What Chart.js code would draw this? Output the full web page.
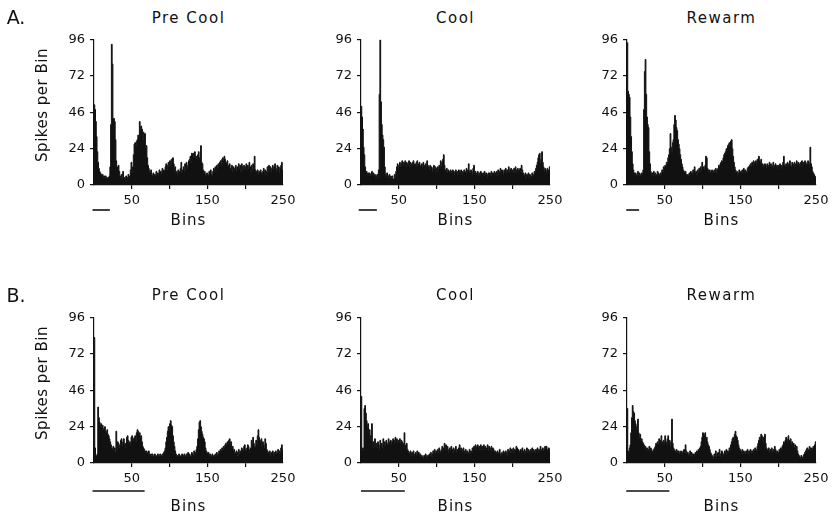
<!DOCTYPE html>
<html>
<head>
<meta charset="utf-8">
<script src="https://cdn.jsdelivr.net/npm/chart.js@4.4.1/dist/chart.umd.min.js"></script>
<style>
	html, body { margin: 0; padding: 0; background: #fff; }
	#fig { position: relative; width: 834px; height: 516px; overflow: hidden; font-family: 'DejaVu Sans', sans-serif; color: #111; }
	#fig canvas { position: absolute; }
	.lbl { position: absolute; transform: translate(-50%, -50%); white-space: nowrap; line-height: 1; }
	.panel-letter { font-size: 19px; }
	.title { font-size: 15px; letter-spacing: 1.5px; }
	.ylab { font-size: 15px; letter-spacing: 0.5px; transform: translate(-50%, -50%) rotate(-90deg); }
	.xlab { font-size: 15px; letter-spacing: 1px; }
</style>
</head>
<body>
<div id="fig"></div>
<script>
(function () {
	'use strict';

	// --- Data (spikes per bin, bins 0..249) ---

	const preCoolA = [
		53, 50, 42, 32, 22, 15, 11, 9, 8, 7,
		6, 7, 5, 6, 5, 6, 5, 4, 5, 5,
		6, 12, 40, 93, 80, 44, 44, 42, 30, 16,
		12, 10, 13, 9, 6, 5, 7, 4, 9, 4,
		5, 3, 6, 4, 5, 7, 5, 6, 10, 15,
		8, 12, 20, 27, 28, 26, 29, 30, 33, 31,
		42, 36, 39, 37, 30, 35, 33, 34, 25, 26,
		18, 13, 11, 9, 8, 10, 7, 6, 8, 6,
		7, 6, 9, 7, 8, 6, 10, 8, 9, 7,
		11, 8, 10, 9, 12, 14, 10, 13, 15, 12,
		16, 13, 17, 15, 18, 14, 10, 12, 8, 9,
		7, 10, 8, 9, 11, 15, 8, 10, 12, 9,
		14, 10, 15, 11, 13, 16, 17, 19, 15, 21,
		20, 21, 18, 22, 19, 19, 17, 20, 22, 18,
		17, 26, 15, 14, 10, 8, 9, 7, 6, 8,
		7, 6, 9, 8, 10, 7, 6, 9, 11, 10,
		12, 9, 13, 11, 14, 12, 15, 16, 13, 17,
		18, 16, 19, 17, 15, 14, 16, 13, 12, 14,
		11, 10, 13, 9, 12, 11, 10, 13, 9, 12,
		10, 14, 11, 13, 9, 14, 12, 10, 13, 11,
		12, 14, 10, 13, 11, 15, 12, 9, 13, 10,
		14, 11, 19, 10, 9, 8, 10, 7, 9, 8,
		10, 8, 7, 9, 11, 8, 10, 7, 9, 12,
		8, 13, 10, 12, 9, 11, 13, 10, 12, 14,
		11, 9, 13, 10, 12, 8, 11, 13, 15, 10
	];

	const coolA = [
		52, 45, 37, 25, 20, 12, 8, 9, 7, 8,
		6, 8, 7, 6, 9, 7, 8, 6, 7, 5,
		6, 7, 5, 10, 60, 96, 55, 40, 33, 30,
		25, 12, 7, 6, 8, 5, 6, 7, 5, 6,
		5, 6, 4, 4, 7, 5, 9, 12, 14, 11,
		13, 15, 12, 14, 16, 13, 15, 14, 16, 12,
		15, 14, 13, 16, 12, 15, 14, 13, 15, 16,
		13, 14, 12, 15, 16, 13, 14, 15, 12, 13,
		14, 12, 15, 13, 11, 14, 12, 16, 13, 12,
		10, 13, 11, 12, 9, 11, 13, 10, 12, 11,
		9, 12, 10, 13, 11, 16, 12, 15, 17, 20,
		13, 10, 9, 11, 8, 10, 9, 8, 10, 9,
		8, 10, 9, 7, 9, 10, 8, 9, 7, 10,
		9, 8, 10, 7, 9, 8, 10, 9, 8, 11,
		9, 10, 14, 9, 8, 10, 9, 7, 11, 13,
		8, 9, 7, 8, 9, 6, 8, 7, 9, 8,
		7, 8, 6, 9, 7, 8, 5, 7, 8, 6,
		8, 7, 9, 6, 8, 7, 9, 8, 6, 9,
		8, 10, 7, 9, 11, 8, 10, 9, 7, 10,
		9, 11, 8, 10, 9, 12, 8, 10, 11, 9,
		10, 8, 11, 9, 12, 10, 8, 11, 9, 10,
		11, 9, 13, 10, 8, 7, 6, 8, 5, 7,
		6, 8, 5, 7, 6, 5, 8, 6, 7, 9,
		8, 11, 13, 15, 18, 20, 21, 14, 17, 22,
		15, 12, 9, 11, 10, 8, 11, 9, 10, 12
	];

	const rewarmA = [
		94, 62, 60, 58, 45, 32, 22, 14, 10, 8,
		7, 8, 6, 7, 9, 7, 8, 6, 7, 8,
		7, 10, 50, 75, 83, 60, 45, 40, 38, 22,
		14, 9, 7, 8, 6, 9, 7, 8, 6, 7,
		9, 8, 7, 6, 8, 7, 10, 9, 12, 11,
		13, 12, 15, 14, 18, 20, 24, 34, 25, 22,
		28, 30, 40, 46, 43, 38, 36, 30, 27, 24,
		20, 17, 14, 12, 10, 9, 8, 9, 7, 6,
		7, 6, 8, 7, 9, 8, 7, 10, 9, 12,
		8, 9, 7, 10, 8, 11, 9, 12, 10, 15,
		11, 12, 10, 13, 19, 18, 11, 10, 9, 10,
		8, 9, 10, 8, 9, 10, 9, 11, 8, 10,
		11, 13, 12, 14, 15, 16, 15, 18, 20, 21,
		22, 24, 23, 26, 27, 28, 26, 29, 30, 24,
		19, 15, 12, 10, 8, 9, 7, 8, 10, 9,
		8, 9, 10, 8, 11, 9, 10, 8, 9, 11,
		12, 10, 13, 14, 12, 15, 13, 16, 15, 14,
		16, 13, 17, 15, 19, 16, 14, 17, 12, 14,
		13, 12, 14, 13, 11, 14, 12, 13, 15, 12,
		14, 13, 12, 15, 11, 13, 14, 12, 13, 11,
		13, 12, 14, 11, 13, 12, 15, 19, 13, 12,
		14, 12, 15, 13, 14, 16, 13, 12, 15, 14,
		13, 15, 12, 14, 16, 13, 15, 14, 12, 15,
		14, 16, 13, 15, 14, 16, 15, 13, 14, 16,
		15, 13, 25, 14, 12, 9, 8, 7, 6, 5
	];

	const preCoolB = [
		83, 10, 5, 4, 6, 37, 30, 27, 25, 26,
		24, 25, 22, 23, 24, 21, 20, 22, 19, 18,
		16, 14, 12, 10, 9, 11, 8, 10, 7, 21,
		9, 14, 13, 10, 12, 15, 16, 11, 14, 16,
		12, 13, 10, 17, 18, 15, 13, 14, 12, 17,
		18, 15, 16, 17, 18, 14, 20, 22, 21, 19,
		20, 17, 18, 14, 11, 10, 9, 8, 7, 8,
		7, 6, 8, 6, 5, 6, 5, 6, 4, 5,
		6, 5, 4, 5, 6, 5, 4, 6, 5, 5,
		6, 5, 7, 8, 10, 14, 17, 21, 24, 22,
		26, 28, 25, 24, 18, 14, 11, 8, 6, 5,
		5, 4, 6, 5, 4, 5, 6, 4, 5, 6,
		5, 4, 6, 5, 7, 5, 6, 4, 5, 7,
		6, 5, 8, 6, 7, 9, 11, 16, 22, 27,
		28, 24, 21, 19, 17, 16, 14, 10, 8, 7,
		6, 7, 5, 6, 5, 4, 6, 5, 4, 5,
		6, 5, 7, 5, 6, 8, 7, 9, 8, 10,
		9, 11, 10, 12, 13, 11, 14, 13, 15, 16,
		12, 14, 10, 11, 8, 9, 7, 6, 8, 7,
		5, 9, 6, 8, 7, 10, 9, 8, 11, 12,
		9, 8, 10, 12, 11, 9, 7, 10, 15, 12,
		17, 13, 10, 11, 15, 12, 18, 22, 17, 15,
		13, 16, 11, 14, 12, 10, 16, 13, 9, 8,
		7, 6, 8, 5, 7, 6, 8, 5, 7, 6,
		8, 6, 7, 9, 6, 8, 7, 10, 12, 9
	];

	const coolB = [
		44, 9, 10, 8, 36, 38, 33, 28, 24, 26,
		20, 22, 18, 15, 26, 12, 14, 10, 16, 11,
		13, 10, 14, 12, 9, 15, 11, 13, 10, 16,
		12, 14, 11, 15, 13, 12, 16, 14, 13, 15,
		12, 14, 16, 13, 15, 17, 14, 16, 13, 15,
		14, 16, 13, 15, 14, 12, 13, 20, 11, 12,
		13, 9, 8, 7, 6, 8, 5, 7, 6, 8,
		5, 6, 7, 5, 8, 6, 7, 5, 6, 4,
		5, 4, 3, 5, 4, 6, 3, 5, 4, 5,
		6, 5, 7, 4, 6, 8, 7, 9, 6, 8,
		7, 9, 6, 10, 8, 7, 9, 11, 8, 10,
		13, 9, 12, 8, 11, 7, 9, 10, 8, 11,
		9, 7, 10, 8, 9, 11, 7, 9, 8, 10,
		12, 8, 10, 9, 7, 10, 8, 6, 9, 7,
		8, 6, 7, 9, 6, 8, 7, 10, 9, 11,
		10, 12, 9, 11, 12, 10, 11, 9, 12, 10,
		11, 9, 12, 10, 11, 9, 10, 12, 8, 11,
		10, 9, 11, 8, 10, 9, 7, 8, 6, 7,
		8, 6, 7, 9, 6, 5, 7, 6, 8, 7,
		6, 8, 7, 5, 9, 7, 8, 10, 7, 9,
		8, 10, 7, 9, 8, 11, 10, 8, 9, 7,
		8, 9, 7, 10, 8, 6, 9, 7, 8, 10,
		7, 9, 8, 6, 9, 8, 10, 7, 9, 8,
		7, 9, 8, 10, 7, 9, 8, 11, 9, 8,
		10, 8, 9, 11, 10, 11, 9, 8, 10, 9
	];

	const rewarmB = [
		36, 8, 6, 10, 12, 20, 30, 38, 34, 33,
		28, 26, 24, 22, 29, 20, 17, 19, 15, 16,
		14, 13, 12, 10, 11, 9, 10, 8, 9, 11,
		8, 10, 9, 7, 8, 9, 10, 11, 13, 12,
		14, 12, 16, 13, 15, 18, 14, 12, 15, 13,
		18, 14, 12, 16, 18, 13, 15, 11, 14, 29,
		13, 10, 9, 8, 7, 9, 8, 7, 8, 6,
		7, 8, 6, 7, 8, 9, 7, 12, 8, 6,
		7, 5, 6, 8, 5, 7, 6, 4, 6, 5,
		7, 6, 8, 7, 9, 8, 10, 11, 14, 17,
		20, 19, 18, 20, 16, 17, 14, 12, 11, 9,
		7, 6, 5, 3, 4, 6, 5, 8, 4, 6,
		7, 5, 9, 6, 4, 8, 7, 5, 6, 8,
		7, 9, 6, 8, 7, 10, 9, 12, 14, 16,
		17, 15, 19, 21, 18, 17, 15, 12, 10, 9,
		8, 7, 9, 6, 8, 7, 6, 8, 7, 9,
		6, 8, 7, 9, 6, 8, 7, 9, 8, 10,
		9, 8, 11, 13, 15, 17, 16, 19, 18, 15,
		17, 14, 19, 13, 10, 9, 8, 10, 7, 9,
		8, 10, 7, 9, 8, 11, 9, 7, 8, 6,
		7, 9, 8, 10, 9, 11, 12, 14, 13, 15,
		17, 16, 14, 18, 15, 13, 16, 12, 14, 11,
		13, 10, 12, 9, 11, 8, 6, 5, 4, 3,
		5, 4, 3, 5, 6, 7, 8, 9, 10, 8,
		9, 11, 10, 8, 10, 9, 11, 10, 12, 14
	];

	// stimulus bars under each histogram, [start bin, end bin]
	const stimPreCoolA = [-2, 21];
	const stimCoolA = [-3, 21];
	const stimRewarmA = [-1, 16];
	const stimPreCoolB = [-2, 67];
	const stimCoolB = [0, 58];
	const stimRewarmB = [-1, 56];

	const yTickValues = [0, 24, 48, 72, 96];
	const yTickLabels = ['0', '24', '46', '72', '96'];
	const xTickLabels = [50, 150, 250];
	const titles = ['Pre Cool', 'Cool', 'Rewarm'];
	const rowLetters = ['A.', 'B.'];

	// --- Layout ---

	const COL_LEFT = [94, 361, 627];
	const COL_CX = [188.5, 455.5, 721.5];
	const PLOT_W = 189;
	const ROWS = [
		{ top: 39, bottom: 185, letterY: 17, titleY: 18, binsY: 220, spikesY: 105, stimOffset: 25 },
		{ top: 317, bottom: 463, letterY: 295, titleY: 295, binsY: 506, spikesY: 383, stimOffset: 28 },
	];
	const Y_AXIS_W = 52;
	const PAD_TOP = 12;
	const PAD_RIGHT = 18;
	const X_AXIS_H = 40;
	const INK = '#111';
	const FONT = "'DejaVu Sans', sans-serif";

	const panels = [
		{ data: preCoolA, row: 0, col: 0, stim: stimPreCoolA },
		{ data: coolA, row: 0, col: 1, stim: stimCoolA },
		{ data: rewarmA, row: 0, col: 2, stim: stimRewarmA },
		{ data: preCoolB, row: 1, col: 0, stim: stimPreCoolB },
		{ data: coolB, row: 1, col: 1, stim: stimCoolB },
		{ data: rewarmB, row: 1, col: 2, stim: stimRewarmB },
	];

	const fig = document.getElementById('fig');

	function addLabel(text, cls, x, y) {
		const el = document.createElement('div');
		el.className = 'lbl ' + cls;
		el.textContent = text;
		el.style.left = x + 'px';
		el.style.top = y + 'px';
		fig.appendChild(el);
	}

	function toSteps(values) {
		const pts = values.map((v, i) => ({ x: i, y: v }));
		pts.push({ x: values.length, y: values[values.length - 1] });
		return pts;
	}

	const stimulusPlugin = {
		id: 'stimulus',
		afterDraw(chart, args, opts) {
			const xs = chart.scales.x;
			const ctx = chart.ctx;
			const y = chart.chartArea.bottom + opts.offset;
			ctx.save();
			ctx.strokeStyle = INK;
			ctx.lineWidth = 1.6;
			ctx.beginPath();
			ctx.moveTo(xs.getPixelForValue(opts.range[0]), y);
			ctx.lineTo(xs.getPixelForValue(opts.range[1]), y);
			ctx.stroke();
			ctx.restore();
		},
	};

	function makePanel(p) {
		const row = ROWS[p.row];
		const plotH = row.bottom - row.top;
		const canvas = document.createElement('canvas');
		const w = Y_AXIS_W + PLOT_W + PAD_RIGHT;
		const h = PAD_TOP + plotH + X_AXIS_H;
		canvas.width = w;
		canvas.height = h;
		canvas.style.left = (COL_LEFT[p.col] - Y_AXIS_W) + 'px';
		canvas.style.top = (row.top - PAD_TOP) + 'px';
		canvas.style.width = w + 'px';
		canvas.style.height = h + 'px';
		fig.appendChild(canvas);

		const tickFont = { family: FONT, size: 13 };

		new Chart(canvas, {
			type: 'line',
			data: {
				datasets: [{
					data: toSteps(p.data),
					stepped: true,
					fill: 'origin',
					backgroundColor: INK,
					borderColor: INK,
					borderWidth: 1,
					pointRadius: 0,
				}],
			},
			options: {
				responsive: false,
				animation: false,
				events: [],
				devicePixelRatio: 1,
				layout: { padding: { top: PAD_TOP, right: PAD_RIGHT, left: 0, bottom: 0 } },
				plugins: {
					legend: { display: false },
					tooltip: { enabled: false },
					stimulus: { range: p.stim, offset: row.stimOffset },
				},
				scales: {
					x: {
						type: 'linear',
						min: 0,
						max: 250,
						afterFit: (s) => { s.height = X_AXIS_H; },
						ticks: {
							stepSize: 50,
							autoSkip: false,
							maxRotation: 0,
							padding: 4,
							color: INK,
							font: tickFont,
							callback: (v) => (xTickLabels.includes(v) ? String(v) : ''),
						},
						grid: {
							drawOnChartArea: false,
							tickLength: 4,
							lineWidth: 1.2,
							color: (ctx) => (ctx.tick && ctx.tick.value > 0 && ctx.tick.value < 250 ? INK : 'rgba(0,0,0,0)'),
						},
						border: { display: true, color: INK, width: 1.2 },
					},
					y: {
						min: 0,
						max: 96,
						afterFit: (s) => { s.width = Y_AXIS_W; },
						ticks: {
							stepSize: 24,
							padding: 5,
							color: INK,
							font: tickFont,
							callback: (v) => {
								const i = yTickValues.indexOf(v);
								return i >= 0 ? yTickLabels[i] : '';
							},
						},
						grid: { drawOnChartArea: false, tickLength: 4, lineWidth: 1.2, color: INK },
						border: { display: true, color: INK, width: 1.2 },
					},
				},
			},
			plugins: [stimulusPlugin],
		});

		addLabel(titles[p.col], 'title', COL_CX[p.col], row.titleY);
		addLabel('Bins', 'xlab', COL_CX[p.col], row.binsY);
		if (p.col === 0) {
			addLabel('Spikes per Bin', 'ylab', 42, row.spikesY);
			addLabel(rowLetters[p.row], 'panel-letter', 16, row.letterY);
		}
	}

	panels.forEach(makePanel);
})();
</script>
</body>
</html>
